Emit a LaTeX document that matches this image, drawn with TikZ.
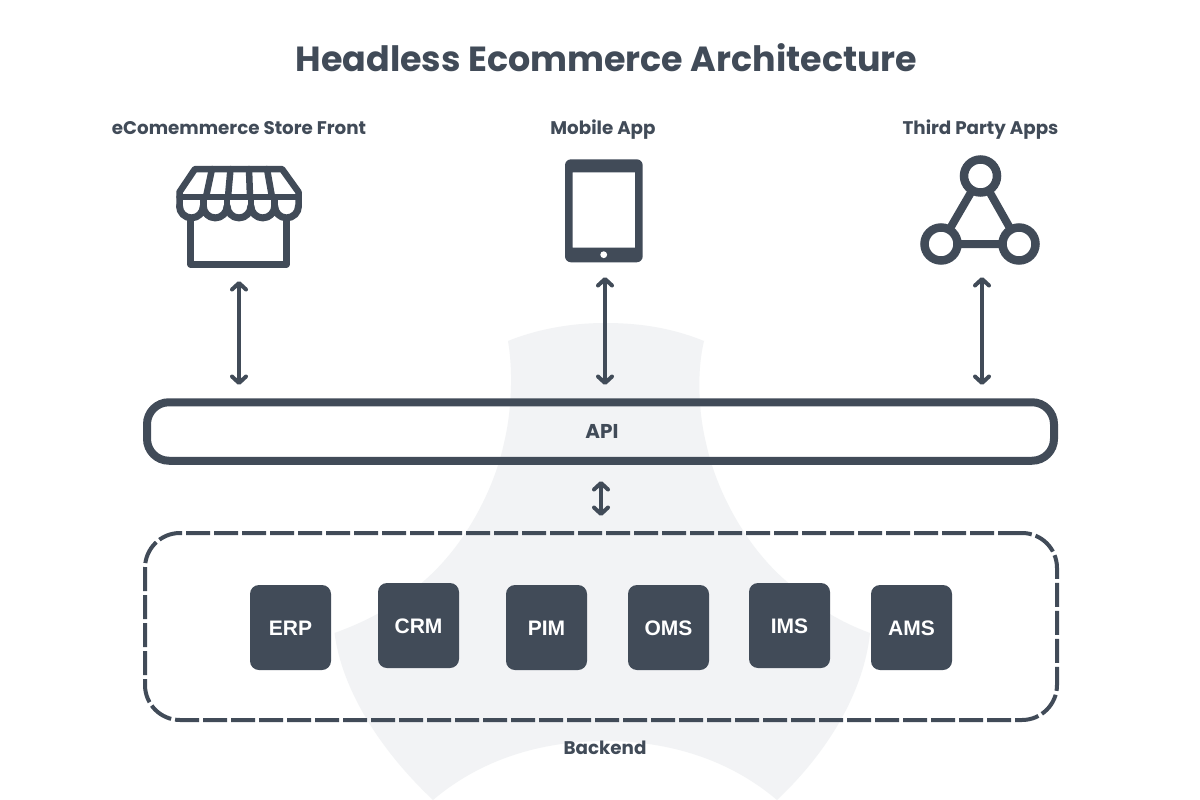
\documentclass[tikz,border=0pt]{standalone}
\usepackage{fontspec}
\usetikzlibrary{arrows.meta}
\newfontfamily\headfont{Poppins}
\newfontfamily\tilefont{Liberation Sans}
\definecolor{ink}{HTML}{414B58}
\definecolor{wash}{HTML}{F2F3F5}
\tikzset{
  link/.style={draw=ink,line width=4pt,{Straight Barb[round,length=6.5pt,width=14pt]}-{Straight Barb[round,length=6.5pt,width=14pt]}},
  tile/.style={fill=ink,rounded corners=9pt,minimum width=81pt,minimum height=85pt,inner sep=0pt,text=white,text height=16pt,text depth=0pt,font=\tilefont\bfseries\fontsize{21}{24}\selectfont},
  head/.style={text=ink,inner sep=0pt,anchor=base,font=\headfont\bfseries\fontsize{18.3}{22}\selectfont},
  icon/.style={draw=ink,line join=round,line cap=round},
}
\begin{document}
\begin{tikzpicture}[x=1pt,y=-1pt]
\useasboundingbox (0,0) rectangle (1200,800);
\fill[white] (0,0) rectangle (1200,800);
% background mark
\fill[wash] (508,341) .. controls (540,328) and (575,323) .. (605,323) .. controls (640,323) and (672,328) .. (704,341)
 .. controls (697,370) and (698,410) .. (706,443) .. controls (716,490) and (745,545) .. (785,580)
 .. controls (815,607) and (840,622) .. (870,633) .. controls (864,690) and (830,750) .. (777,800)
 .. controls (730,760) and (670,741) .. (605,741) .. controls (540,741) and (480,760) .. (433,800)
 .. controls (380,750) and (342,690) .. (334.5,633) .. controls (365,622) and (395,607) .. (425,580)
 .. controls (465,545) and (494,490) .. (504,443) .. controls (512,410) and (513,370) .. (508,341) -- cycle;
% title and labels
\node[head,font=\headfont\bfseries\fontsize{34.9}{40}\selectfont] (title) at (606.5,72) {Headless Ecommerce Architecture};
\node[head] (lstore) at (239,134) {eComemmerce Store Front};
\node[head] (lmobile) at (603,134) {Mobile App};
\node[head] (lthird) at (980.5,134) {Third Party Apps};
% store icon
\draw[icon,line width=6.5pt] (179.5,206) -- (179.5,192) -- (195,169) -- (282,169) -- (298.5,192) -- (298.5,206);
\draw[icon,line width=6.5pt] (179.5,197) -- (298.5,197);
\draw[icon,line width=6.5pt] (212,169) -- (206,197) (230.5,169) -- (228,197) (249,169) -- (250,197) (267,169) -- (272,197);
\draw[icon,line width=7pt] (179.5,206) arc[start angle=180,end angle=360,radius=11.9pt]
  arc[start angle=180,end angle=360,radius=11.9pt] arc[start angle=180,end angle=360,radius=11.9pt]
  arc[start angle=180,end angle=360,radius=11.9pt] arc[start angle=180,end angle=360,radius=11.9pt];
\draw[icon,line width=6.5pt] (203.3,197) -- (203.3,206) (227.1,197) -- (227.1,206) (250.9,197) -- (250.9,206) (274.7,197) -- (274.7,206);
\draw[icon,line width=6.5pt] (190.5,219) -- (190.5,264.5) -- (286.5,264.5) -- (286.5,219);
% tablet icon
\fill[ink,even odd rule] (565,165.3) arc[start angle=180,end angle=90,radius=6pt] -- (636.7,159.3) arc[start angle=90,end angle=0,radius=6pt] -- (642.7,256.3) arc[start angle=360,end angle=270,radius=6pt] -- (571,262.3) arc[start angle=270,end angle=180,radius=6pt] -- cycle
  (572.7,172.3) rectangle (635,247.7);
\fill[white] (603.7,254.7) circle[radius=3.4pt];
% third party icon
\coordinate (ctop) at (980.5,176);
\coordinate (cleft) at (941,244);
\coordinate (cright) at (1019,244);
\draw[ink,line width=8pt] (ctop) -- (cleft) -- (cright) -- cycle;
\foreach \c in {ctop,cleft,cright}
  \draw[ink,fill=white,line width=8.5pt] (\c) circle[radius=16.5pt];
% API
\node[draw=ink,line width=8pt,rounded corners=22pt,minimum width=907pt,minimum height=58.5pt,inner sep=0pt,text=ink,font=\headfont\bfseries\fontsize{20}{24}\selectfont] (api) at (600.5,431.5) {\hspace*{3pt}API};
% backend
\node[draw=ink,line width=4pt,dash pattern=on 24pt off 4pt,rounded corners=35pt,minimum width=912pt,minimum height=187pt,inner sep=0pt] (backend) at (601,626.5) {};
\node[head] (lbackend) at (605,754) {Backend};
% tiles
\node[tile] (erp) at (290.5,627.5) {ERP};
\node[tile] (crm) at (418.5,625.5) {CRM};
\node[tile] (pim) at (546.5,627.5) {PIM};
\node[tile] (oms) at (668.5,627.5) {OMS};
\node[tile] (ims) at (789.5,625.5) {IMS};
\node[tile] (ams) at (911.5,627.5) {AMS};
% connectors
\coordinate (s1) at (239,281); \coordinate (e1) at (239,385);
\coordinate (s2) at (605,277); \coordinate (e2) at (605,385);
\coordinate (s3) at (982,277); \coordinate (e3) at (982,385);
\coordinate (s4) at (601,481); \coordinate (e4) at (601,516);
\draw[link] (s1) -- (e1);
\draw[link] (s2) -- (e2);
\draw[link] (s3) -- (e3);
\draw[link] (s4) -- (e4);
\end{tikzpicture}
\end{document}
